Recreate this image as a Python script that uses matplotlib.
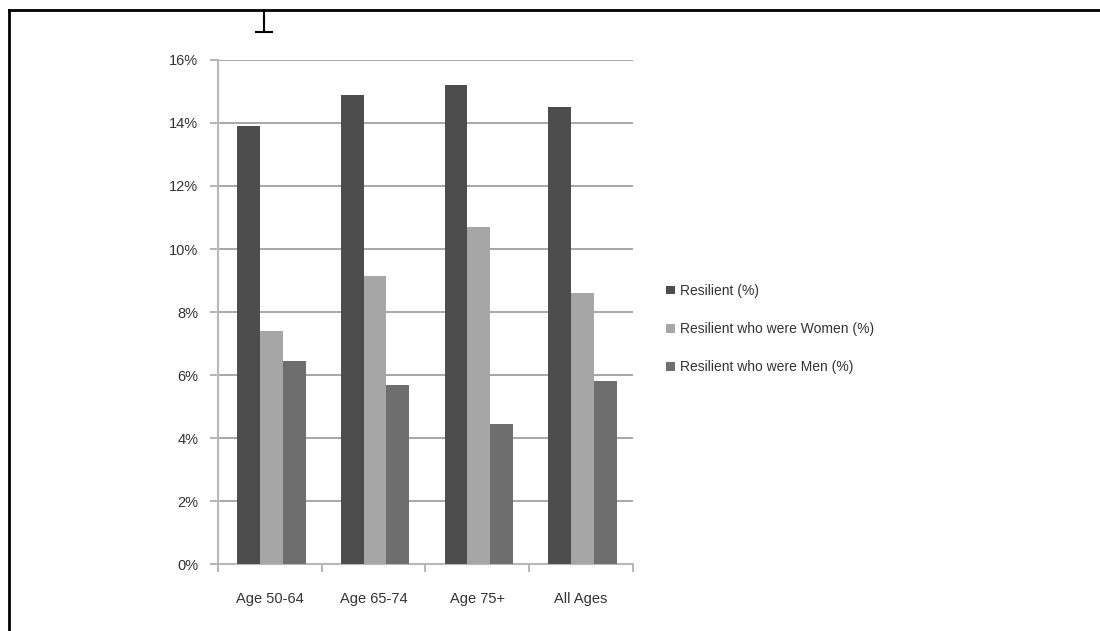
import matplotlib
matplotlib.use("Agg")
import matplotlib.pyplot as plt
from matplotlib.lines import Line2D
from matplotlib.ticker import FuncFormatter
import numpy as np

# Share of resilient respondents by age band
categories = ["Age 50-64", "Age 65-74", "Age 75+", "All Ages"]
resilient = [13.9, 14.9, 15.2, 14.5]
resilient_women = [7.4, 9.15, 10.7, 8.6]
resilient_men = [6.45, 5.7, 4.45, 5.8]

series_labels = ["Resilient (%)", "Resilient who were Women (%)", "Resilient who were Men (%)"]
colors = ["#4d4d4d", "#a6a6a6", "#6e6e6e"]

plt.rcParams['font.family'] = ['Liberation Sans Narrow', 'Liberation Sans', 'DejaVu Sans']

fig = plt.figure(figsize=(11, 6.31), dpi=100)
ax = fig.add_axes([0.198, 0.106, 0.3775, 0.799])

x = np.arange(len(categories))
width = 0.22
for i, (vals, lab, col) in enumerate(zip([resilient, resilient_women, resilient_men], series_labels, colors)):
    ax.bar(x + (i - 1) * width + 0.015, vals, width, color=col, label=lab, zorder=3)

ax.set_xlim(-0.5, len(categories) - 0.5)
ax.set_ylim(0, 16)
ax.set_yticks(np.arange(0, 17, 2))
ax.yaxis.set_major_formatter(FuncFormatter(lambda v, p: "%d%%" % v))
ax.set_xticks(x)
ax.set_xticklabels(categories)
ax.set_xticks(np.arange(-0.5, len(categories), 1), minor=True)

# gridlines and axis styling
ax.grid(axis='y', color='#a0a0a0', linewidth=1.3, zorder=0)
for s in ['top', 'right']:
    ax.spines[s].set_visible(False)
for s in ['left', 'bottom']:
    ax.spines[s].set_color('#b8b8b8')
    ax.spines[s].set_linewidth(1.5)
ax.tick_params(axis='y', length=6, width=1.3, color='#b0b0b0', pad=8, labelsize=10.5, labelcolor='#333333')
ax.tick_params(axis='x', which='major', length=0, pad=20, labelsize=10.5, labelcolor='#333333')
ax.tick_params(axis='x', which='minor', length=6, width=1.3, color='#b0b0b0')

leg = ax.legend(loc='center left', bbox_to_anchor=(1.05, 0.466), frameon=False,
                fontsize=10, handlelength=0.6, handleheight=0.6, handletextpad=0.4,
                labelspacing=1.75)
for t in leg.get_texts():
    t.set_color('#333333')

# page border and cursor mark
fig.add_artist(Line2D([0.008, 1.0], [0.984, 0.984], color='black', linewidth=2, transform=fig.transFigure))
fig.add_artist(Line2D([0.008, 0.008], [0.0, 0.984], color='black', linewidth=2, transform=fig.transFigure))
fig.add_artist(Line2D([0.240, 0.240], [0.949, 0.984], color='black', linewidth=1.5, transform=fig.transFigure))
fig.add_artist(Line2D([0.233, 0.247], [0.949, 0.949], color='black', linewidth=1.5, transform=fig.transFigure))

fig.savefig('out.png', dpi=100)
